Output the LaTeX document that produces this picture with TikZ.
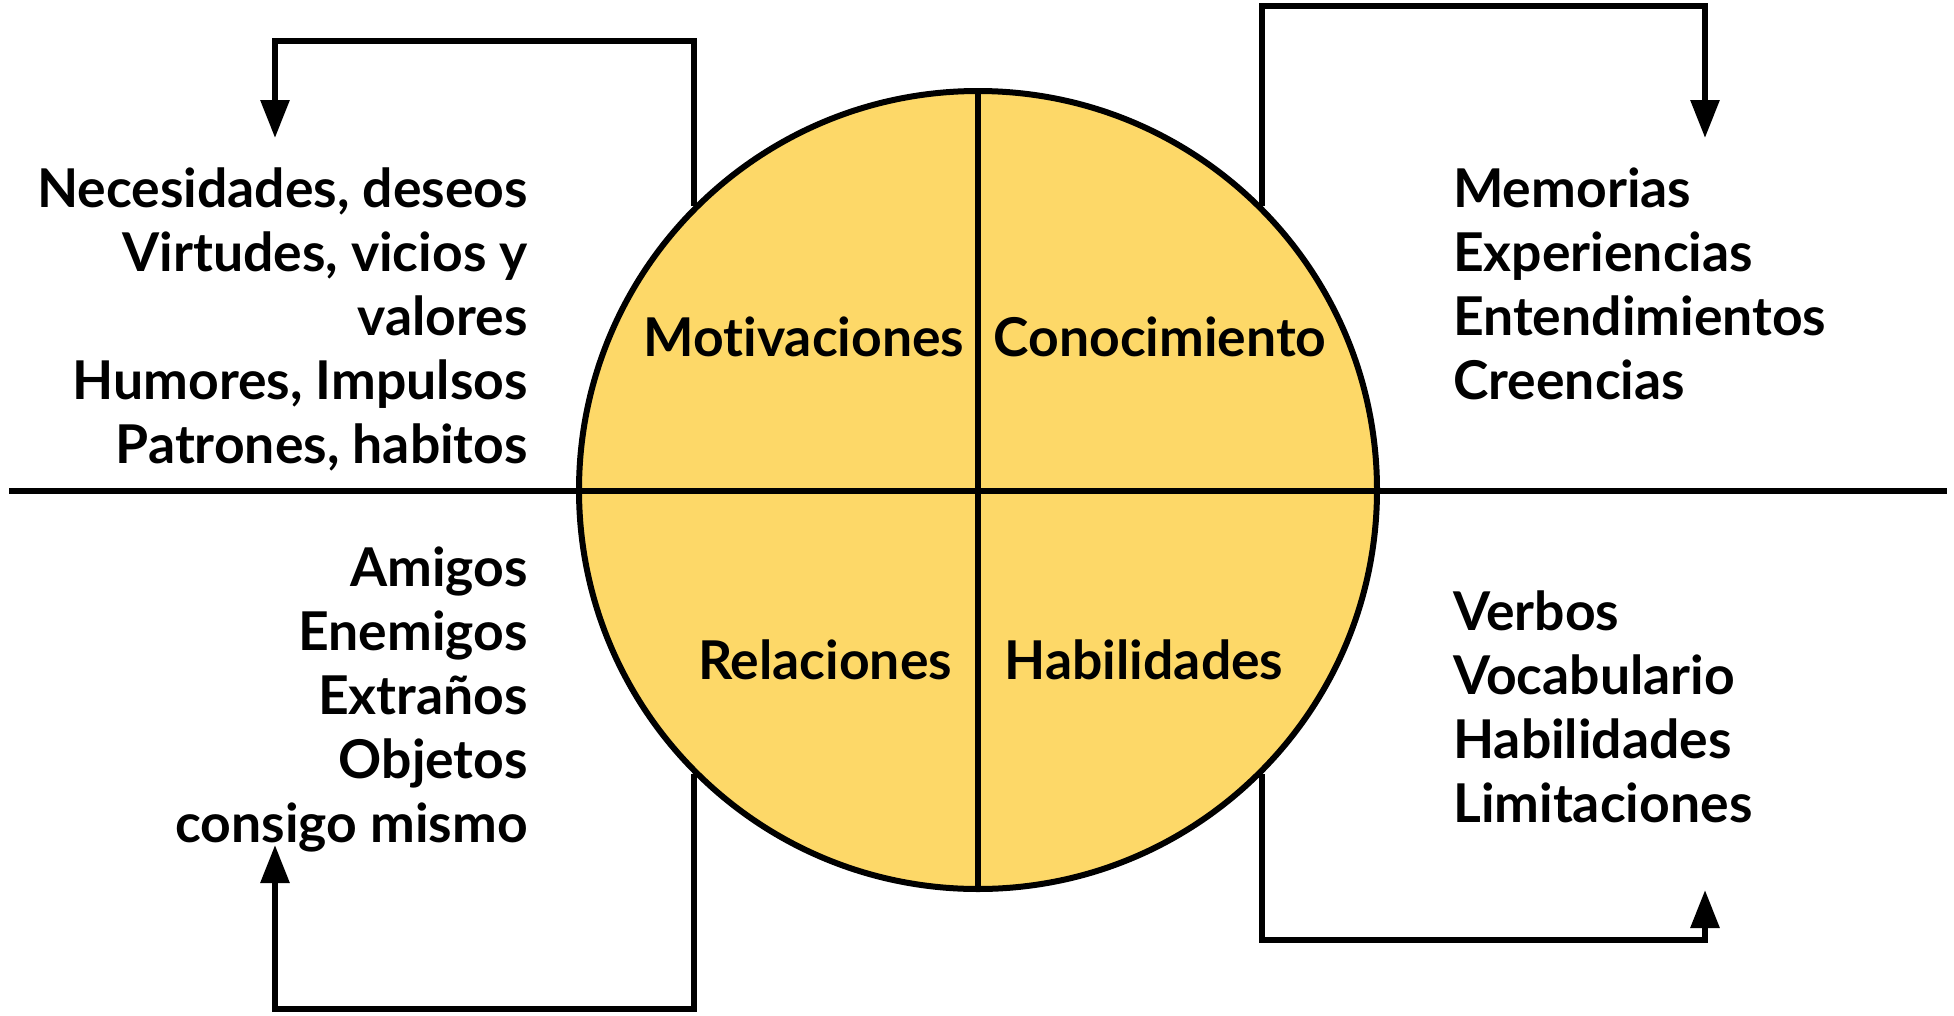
\documentclass[tikz,border=0pt]{standalone}
\usepackage{fontspec}
\setmainfont{Lato}[Ligatures=NoCommon]
\usetikzlibrary{arrows.meta}
\definecolor{qfill}{RGB}{253,216,104}
\begin{document}
\begin{tikzpicture}[x=1pt,y=-1pt,
  lbl/.style={font=\fontsize{53.5}{64}\selectfont\bfseries, inner sep=0pt},
  conn/.style={line width=6pt, -{Triangle[length=38pt,width=28pt]}},
  ln/.style={line width=6pt}]
\useasboundingbox (0,0) rectangle (1954,1015);
% circle
\node[circle, draw, fill=qfill, line width=6pt, minimum size=798pt, inner sep=0pt] (c) at (978,490) {};
\coordinate (hl) at (9,491);
\coordinate (hr) at (1947,491);
\draw[ln] (hl) -- (hr);
\draw[ln] (c.north) -- (c.south);
% quadrant labels
\node[lbl, anchor=base] (mot) at (804,356) {Motivaciones};
\node[lbl, anchor=base] (con) at (1160,356) {Conocimiento};
\node[lbl, anchor=base] (rel) at (825,679) {Relaciones};
\node[lbl, anchor=base] (hab) at (1144,679) {Habilidades};
% side texts (anchored at last baseline)
\node[lbl, anchor=base east, align=right] (tl) at (528,463) {Necesidades, deseos\\Virtudes, vicios y\\valores\\Humores, Impulsos\\Patrones, habitos};
\node[lbl, anchor=base east, align=right] (bl) at (528,842) {Amigos\\Enemigos\\Extraños\\Objetos\\consigo mismo};
\node[lbl, anchor=base west, align=left] (tr) at (1453,399) {Memorias\\Experiencias\\Entendimientos\\Creencias};
\node[lbl, anchor=base west, align=left] (br) at (1453,822) {Verbos\\Vocabulario\\Habilidades\\Limitaciones};
% connector ends
\coordinate (tlend) at (275,138);
\coordinate (trend) at (1705,138);
\coordinate (blend) at (275,845);
\coordinate (brend) at (1705,890);
\draw[conn] (c.135) -- (c.135 |- 0,41) -| (tlend);
\draw[conn] (c.45) -- (c.45 |- 0,5.5) -| (trend);
\draw[conn] (c.225) -- (c.225 |- 0,1009) -| (blend);
\draw[conn] (c.315) -- (c.315 |- 0,940) -| (brend);
\end{tikzpicture}
\end{document}
